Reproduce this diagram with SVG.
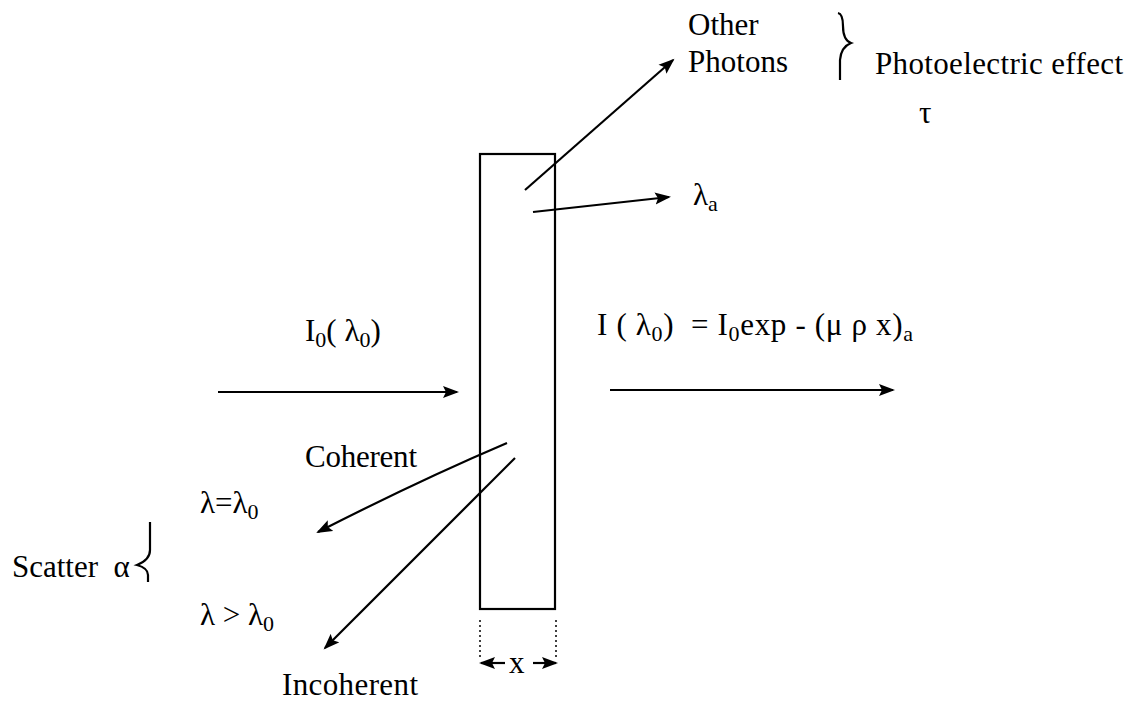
<svg xmlns="http://www.w3.org/2000/svg" width="1138" height="703" viewBox="0 0 1138 703">
<style>
text{font-family:'Liberation Serif','DejaVu Serif',serif;font-size:31px;fill:#000}
.sub{font-size:22px}
.ln{stroke:#000;stroke-width:2.2;fill:none}
.dot{stroke:#000;stroke-width:1.5;stroke-dasharray:2 3;fill:none}
</style>
<defs>
<marker id="ah" markerWidth="18" markerHeight="14" refX="14" refY="7" orient="auto" markerUnits="userSpaceOnUse">
<path d="M0,1 L16,7 L0,13 L3,7 Z" fill="#000"/>
</marker>
</defs>
<g id="slab">
<rect x="480" y="154" width="75" height="455" class="ln"/>
</g>
<g id="connectors">
<line x1="218" y1="392" x2="457" y2="392" class="ln" marker-end="url(#ah)"/>
<line x1="610" y1="390" x2="893" y2="390" class="ln" marker-end="url(#ah)"/>
<line x1="525" y1="190" x2="673" y2="60" class="ln" marker-end="url(#ah)"/>
<line x1="533" y1="212" x2="669" y2="197" class="ln" marker-end="url(#ah)"/>
<path d="M507,443 Q420,480 318,532" class="ln" marker-end="url(#ah)"/>
<line x1="515" y1="458" x2="325" y2="648" class="ln" marker-end="url(#ah)"/>
<line x1="480" y1="620" x2="480" y2="660" class="dot"/>
<line x1="556" y1="620" x2="556" y2="660" class="dot"/>
<line x1="505" y1="663" x2="481" y2="663" class="ln" marker-end="url(#ah)"/>
<line x1="533" y1="663" x2="556" y2="663" class="ln" marker-end="url(#ah)"/>
</g>
<g id="brace-photo">
<path d="M838,13 Q843,14 843,26 Q843,40 851,43 Q841,47 840,60 L840,80" class="ln"/>
</g>
<g id="brace-scatter">
<path d="M150,522 L150,550 Q150,560 137,565 Q148,568 148,575 L148,582" class="ln"/>
</g>
<g id="labels">
<text x="688" y="35">Other</text>
<text x="688" y="72" textLength="100">Photons</text>
<text x="875" y="74" textLength="248">Photoelectric effect</text>
<text x="919" y="123">τ</text>
<text x="693" y="205">λ<tspan class="sub" dy="6">a</tspan></text>
<text x="305" y="341">I<tspan class="sub" dy="6">0</tspan><tspan dy="-6">( λ</tspan><tspan class="sub" dy="6">0</tspan><tspan dy="-6">)</tspan></text>
<text x="597" y="335" xml:space="preserve" textLength="316">I ( λ<tspan class="sub" dy="6">0</tspan><tspan dy="-6">)  = I</tspan><tspan class="sub" dy="6">0</tspan><tspan dy="-6">exp - (μ ρ x)</tspan><tspan class="sub" dy="6">a</tspan></text>
<text x="305" y="467" textLength="112">Coherent</text>
<text x="200" y="513">λ=λ<tspan class="sub" dy="6">0</tspan></text>
<text x="12" y="577" xml:space="preserve">Scatter  α</text>
<text x="200" y="625">λ &gt; λ<tspan class="sub" dy="6">0</tspan></text>
<text x="282" y="695" textLength="136">Incoherent</text>
<text x="509" y="673">x</text>
</g>
</svg>
